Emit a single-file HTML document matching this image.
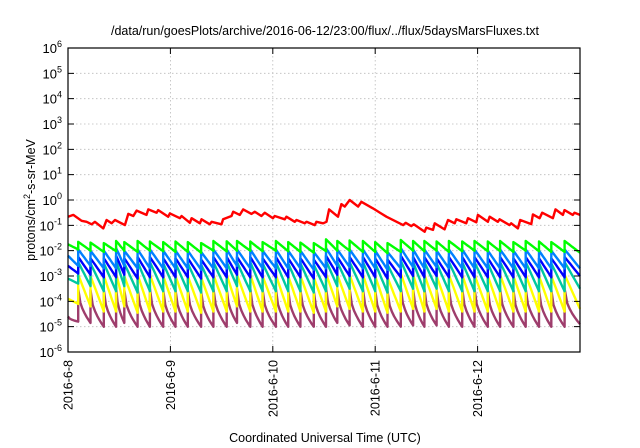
<!DOCTYPE html>
<html><head><meta charset="utf-8"><style>
body{margin:0;background:#fff;}
svg{display:block;font-family:"Liberation Sans",sans-serif;}
</style></head><body>
<svg id="chart" width="640" height="448" viewBox="0 0 640 448">
<text x="325" y="35" font-size="12.5" text-anchor="middle">/data/run/goesPlots/archive/2016-06-12/23:00/flux/../flux/5daysMarsFluxes.txt</text>
<text x="325" y="442" font-size="12.5" text-anchor="middle">Coordinated Universal Time (UTC)</text>
<text transform="translate(35,200) rotate(-90)" font-size="12.5" text-anchor="middle">protons/cm<tspan dy="-5" font-size="9">2</tspan><tspan dy="5">-s-sr-MeV</tspan></text>
<g id="grid"></g><g id="series"></g><g id="axes"></g>
</svg>
<script>
const xTickLabels=["2016-6-8","2016-6-9","2016-6-10","2016-6-11","2016-6-12"];
const yTickExps=[-6,-5,-4,-3,-2,-1,0,1,2,3,4,5,6];
const redT=[0,0.052,0.133,0.182,0.231,0.263,0.345,0.377,0.426,0.459,0.556,0.589,0.638,0.670,0.767,0.784,0.865,0.881,0.979,0.995,1.093,1.109,1.190,1.207,1.288,1.304,1.385,1.402,1.499,1.515,1.597,1.613,1.678,1.711,1.792,1.824,1.889,1.922,2.002,2.019,2.117,2.133,2.215,2.231,2.312,2.329,2.410,2.426,2.491,2.524,2.550,2.637,2.670,2.702,2.751,2.833,2.865,2.979,3.109,3.272,3.298,3.353,3.376,3.483,3.499,3.564,3.581,3.678,3.711,3.776,3.792,3.889,3.906,3.987,4.003,4.101,4.117,4.198,4.215,4.312,4.328,4.394,4.416,4.524,4.540,4.605,4.631,4.735,4.761,4.833,4.849,4.930,4.946,5.0];
const redLog=[-0.66,-0.59,-0.82,-0.86,-0.96,-0.86,-1.12,-0.79,-0.92,-0.79,-0.99,-0.55,-0.63,-0.42,-0.59,-0.37,-0.50,-0.40,-0.66,-0.53,-0.72,-0.63,-0.90,-0.72,-0.92,-0.76,-0.96,-0.86,-0.96,-0.76,-0.63,-0.46,-0.59,-0.37,-0.55,-0.46,-0.63,-0.50,-0.72,-0.63,-0.76,-0.66,-0.86,-0.79,-0.92,-0.86,-0.99,-0.86,-0.92,-0.86,-0.37,-0.66,-0.16,-0.26,0.0,-0.26,-0.07,-0.33,-0.66,-0.99,-0.90,-1.03,-0.96,-1.25,-1.09,-1.18,-0.92,-1.16,-0.79,-0.92,-0.76,-0.92,-0.72,-0.88,-0.59,-0.86,-0.66,-0.86,-0.76,-0.99,-0.92,-1.12,-0.79,-0.95,-0.57,-0.72,-0.50,-0.72,-0.37,-0.59,-0.40,-0.59,-0.50,-0.59];
const toothT=[0,0.10,0.22,0.35,0.47,0.55,0.68,0.80,0.93,1.05,1.17,1.30,1.42,1.55,1.65,1.78,1.90,2.03,2.15,2.27,2.40,2.52,2.63,2.75,2.88,3.00,3.12,3.25,3.37,3.48,3.60,3.72,3.85,3.97,4.10,4.22,4.35,4.47,4.60,4.72,4.85];
const greenPeak=[-1.75,-1.65,-1.68,-1.70,-1.62,-1.66,-1.62,-1.64,-1.66,-1.64,-1.66,-1.70,-1.62,-1.63,-1.62,-1.64,-1.66,-1.62,-1.66,-1.68,-1.70,-1.55,-1.62,-1.60,-1.62,-1.66,-1.70,-1.58,-1.62,-1.62,-1.64,-1.62,-1.64,-1.62,-1.64,-1.62,-1.66,-1.62,-1.64,-1.66,-1.62];
const greenTrough=[-1.95,-2.0,-2.05,-2.02,-2.0,-2.05,-2.0,-2.02,-2.05,-2.05,-2.08,-2.0,-2.03,-2.0,-2.0,-2.02,-2.0,-2.02,-2.05,-2.08,-2.02,-2.0,-2.0,-2.05,-2.05,-2.10,-2.05,-2.0,-2.02,-2.0,-2.05,-2.02,-2.0,-2.02,-2.02,-2.05,-2.0,-2.02,-2.05,-2.05,-2.08];
const lblueMax=[-2.2,-1.95,-2.0,-2.0,-1.9,-2.0,-1.95,-1.95,-2.0,-2.0,-2.0,-2.05,-1.95,-1.95,-1.95,-1.95,-2.0,-1.95,-2.0,-2.0,-2.05,-1.9,-1.95,-1.95,-1.95,-2.0,-2.05,-1.9,-1.95,-1.95,-2.0,-1.95,-1.95,-1.95,-2.0,-1.95,-2.0,-1.95,-2.0,-2.0,-1.95];
const lblueMin=[-2.6,-2.6,-2.7,-2.7,-2.6,-2.7,-2.7,-2.7,-2.7,-2.7,-2.75,-2.7,-2.7,-2.6,-2.7,-2.7,-2.7,-2.7,-2.7,-2.75,-2.7,-2.6,-2.65,-2.7,-2.7,-2.75,-2.7,-2.65,-2.7,-2.65,-2.7,-2.7,-2.7,-2.7,-2.7,-2.7,-2.7,-2.7,-2.7,-2.7,-2.7];
const bluePeak=[-2.6,-2.25,-2.3,-2.3,-2.2,-2.3,-2.25,-2.25,-2.3,-2.3,-2.3,-2.35,-2.25,-2.25,-2.25,-2.25,-2.3,-2.25,-2.3,-2.3,-2.35,-2.2,-2.25,-2.25,-2.25,-2.3,-2.35,-2.2,-2.25,-2.25,-2.3,-2.25,-2.25,-2.25,-2.3,-2.25,-2.3,-2.25,-2.3,-2.3,-2.25];
const blueTrough=[-2.9,-2.95,-3.05,-3.05,-2.95,-3.1,-3.05,-3.05,-3.05,-3.05,-3.1,-3.05,-3.05,-2.95,-3.05,-3.05,-3.05,-3.05,-3.05,-3.1,-3.05,-2.95,-3.0,-3.05,-3.05,-3.1,-3.05,-3.0,-3.05,-3.0,-3.05,-3.05,-3.05,-3.05,-3.05,-3.05,-3.05,-3.05,-3.05,-3.05,-3.0];
const tealPeak=[-3.1,-2.45,-2.5,-2.5,-2.4,-2.5,-2.45,-2.45,-2.5,-2.5,-2.5,-2.55,-2.45,-2.45,-2.45,-2.45,-2.5,-2.45,-2.5,-2.5,-2.55,-2.4,-2.45,-2.45,-2.45,-2.5,-2.55,-2.4,-2.45,-2.45,-2.5,-2.45,-2.45,-2.45,-2.5,-2.45,-2.5,-2.45,-2.5,-2.5,-2.45];
const tealTrough=[-3.3,-3.4,-3.6,-3.6,-3.4,-3.65,-3.6,-3.6,-3.6,-3.6,-3.65,-3.6,-3.6,-3.4,-3.6,-3.6,-3.6,-3.6,-3.6,-3.65,-3.6,-3.4,-3.5,-3.6,-3.6,-3.65,-3.6,-3.5,-3.6,-3.5,-3.6,-3.6,-3.6,-3.6,-3.6,-3.6,-3.6,-3.6,-3.6,-3.6,-3.5];
const yellowPeak=[-3.9,-2.95,-3.0,-3.0,-2.9,-3.0,-2.95,-2.95,-3.0,-3.0,-3.0,-3.05,-2.95,-2.95,-2.95,-2.95,-3.0,-2.95,-3.0,-3.0,-3.05,-2.9,-2.95,-2.95,-2.95,-3.0,-3.05,-2.9,-2.95,-2.95,-3.0,-2.95,-2.95,-2.95,-3.0,-2.95,-3.0,-2.95,-3.0,-3.0,-2.95];
const yellowTrough=[-4.1,-4.2,-4.4,-4.4,-4.2,-4.45,-4.4,-4.4,-4.4,-4.4,-4.45,-4.4,-4.4,-4.2,-4.4,-4.4,-4.4,-4.4,-4.4,-4.45,-4.4,-4.2,-4.3,-4.4,-4.4,-4.45,-4.4,-4.3,-4.4,-4.3,-4.4,-4.4,-4.4,-4.4,-4.4,-4.4,-4.4,-4.4,-4.4,-4.4,-4.3];
const purplePeak=[-4.6,-3.5,-3.55,-3.55,-3.45,-3.55,-3.5,-3.5,-3.55,-3.55,-3.55,-3.6,-3.5,-3.5,-3.5,-3.5,-3.55,-3.5,-3.55,-3.55,-3.6,-3.45,-3.5,-3.5,-3.5,-3.55,-3.6,-3.45,-3.5,-3.5,-3.55,-3.5,-3.5,-3.5,-3.55,-3.5,-3.55,-3.5,-3.55,-3.55,-3.5];
const purpleTrough=[-4.8,-4.85,-5.0,-5.0,-4.85,-5.0,-5.0,-5.0,-5.0,-5.0,-5.0,-5.0,-5.0,-4.85,-5.0,-5.0,-5.0,-5.0,-5.0,-5.0,-5.0,-4.85,-4.95,-5.0,-5.0,-5.0,-5.0,-4.95,-5.0,-4.95,-5.0,-5.0,-5.0,-5.0,-5.0,-5.0,-5.0,-5.0,-5.0,-5.0,-4.9];

const L=68,R=580,T=48,B=352,tMax=5;
const xS=t=>L+(t/tMax)*(R-L);
const yS=lg=>T+(6-lg)/12*(B-T);
const NS="http://www.w3.org/2000/svg";
function mk(tag,attrs,parent){const e=document.createElementNS(NS,tag);for(const k in attrs)e.setAttribute(k,attrs[k]);parent.appendChild(e);return e;}
const grid=document.getElementById('grid'),axes=document.getElementById('axes'),ser=document.getElementById('series');
yTickExps.forEach((ex)=>{
  const y=yS(ex);
  if(ex>-6&&ex<6){const g=mk('line',{x1:L,x2:R,y1:y,y2:y,stroke:'#bbb','stroke-width':0.8,'stroke-dasharray':'1.5,2.5'},grid);
  
  }
  const tk=mk('path',{d:`M${L},${y}h6M${R},${y}h-6`,stroke:'#000','stroke-width':1},axes);
  
  
  const tx=mk('text',{x:L-6,y:y+5,'font-size':13,'text-anchor':'end'},axes);
  
  
  tx.appendChild(document.createTextNode('10'));
  const sp=mk('tspan',{dy:-6,'font-size':9},tx);sp.textContent=String(ex);
});
xTickLabels.forEach((lab,i)=>{
  const x=xS(i);
  if(i>0){const g=mk('line',{x1:x,x2:x,y1:T,y2:B,stroke:'#bbb','stroke-width':0.8,'stroke-dasharray':'1.5,2.5'},grid);
  
  }
  const tk=mk('path',{d:`M${x},${B}v-6M${x},${T}v6`,stroke:'#000','stroke-width':1},axes);
  
  
  const tx=mk('text',{transform:`translate(${x+4.5},${B+8}) rotate(-90)`,'font-size':12.5,'text-anchor':'end'},axes);
  
  
  tx.textContent=lab;
});
const fr=mk('rect',{x:L,y:T,width:R-L,height:B-T,fill:'none',stroke:'#000','stroke-width':1.2},axes);



function tooth(peaks,troughs,curve){
  let d='';
  for(let i=0;i<toothT.length;i++){
    const t0=toothT[i],t1=i+1<toothT.length?toothT[i+1]:tMax;
    const n=6;
    for(let k=0;k<=n;k++){
      const f=k/n,fr2=curve?Math.pow(f,0.5):f;
      const lg=peaks[i]+(troughs[i]-peaks[i])*fr2;
      d+=(d?'L':'M')+xS(t0+(t1-t0)*f).toFixed(1)+','+yS(lg).toFixed(1);
    }
  }
  return d;
}
function addPath(d,color,name){
  const p=mk('path',{d:d,fill:'none',stroke:color,'stroke-width':2.4,'stroke-linejoin':'round'},ser);
  
  
}
addPath(tooth(purplePeak,purpleTrough,true),'#9e3d6c','series-purple');
addPath(tooth(yellowPeak,yellowTrough,false),'#ffff00','series-yellow');
addPath(tooth(tealPeak,tealTrough,false),'#00c8a0','series-teal');
addPath(tooth(bluePeak,blueTrough,false),'#0000ff','series-blue');
addPath(tooth(lblueMax,lblueMin,false),'#0080ff','series-light-blue');
addPath(tooth(greenPeak,greenTrough,false),'#00ff00','series-green');
let rd='';redT.forEach((t,i)=>{rd+=(i?'L':'M')+xS(t).toFixed(1)+','+yS(redLog[i]).toFixed(1);});
addPath(rd,'#ff0000','series-red');
</script>
</body></html>
